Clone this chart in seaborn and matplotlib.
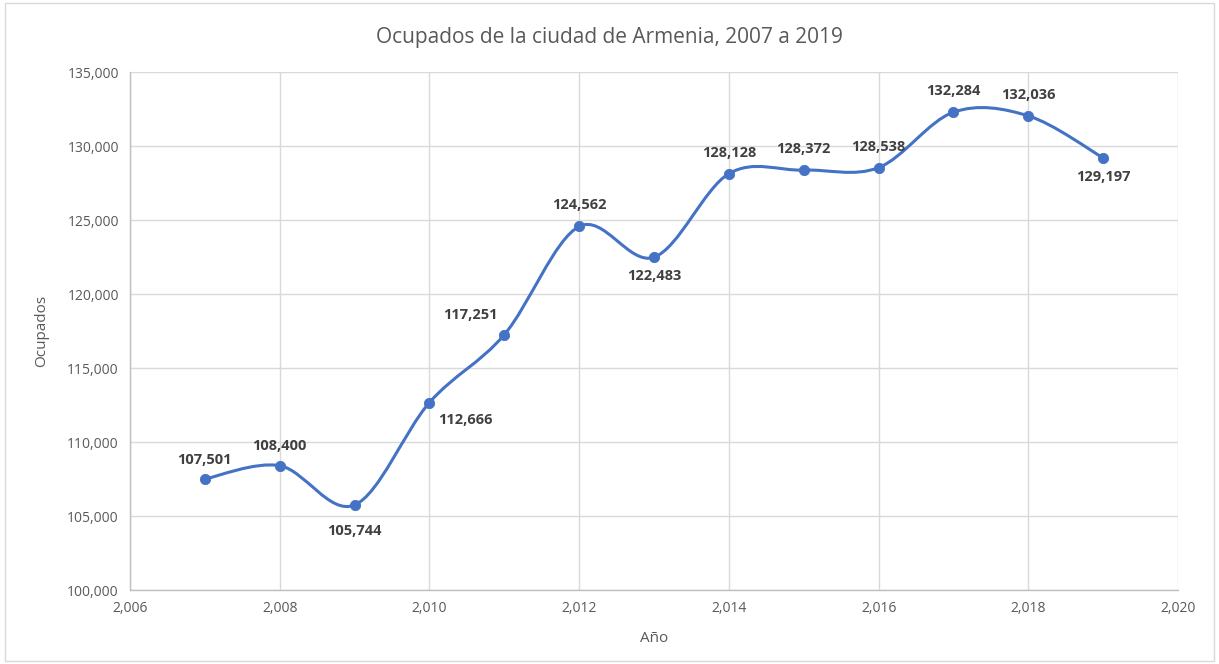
import numpy as np
import pandas as pd
import matplotlib.pyplot as plt
import seaborn as sns
from matplotlib.path import Path
from matplotlib.patches import PathPatch, Rectangle
from matplotlib.ticker import FuncFormatter

# data
years = [2007, 2008, 2009, 2010, 2011, 2012, 2013, 2014, 2015, 2016, 2017, 2018, 2019]
ocupados = [107501, 108400, 105744, 112666, 117251, 124562, 122483,
            128128, 128372, 128538, 132284, 132036, 129197]
# label offsets in pixels (dx, dy)
label_offsets = [(0, 19), (0, 20), (0, -26), (36, -17), (-34, 20), (0, 21), (0, -19),
                 (0, 21), (0, 21), (0, 21), (0, 21), (0, 21), (0, -19)]

df = pd.DataFrame({"Año": years, "Ocupados": ocupados})

sns.set_theme(style="whitegrid")
plt.rcParams['font.family'] = ['Open Sans', 'DejaVu Sans']

line_color = "#4472C4"
text_color = "#595959"

fig = plt.figure(figsize=(12.19, 6.64), dpi=100)
ax = fig.add_axes([130 / 1219, 1 - 590 / 664, (1178 - 130) / 1219, (590 - 72) / 664])

# smoothed line like Excel (cubic bezier through points)
x = np.array(years, dtype=float)
y = np.array(ocupados, dtype=float)
verts = [(x[0], y[0])]
codes = [Path.MOVETO]
n = len(x)
for i in range(n - 1):
    x0, y0 = (x[i - 1], y[i - 1]) if i > 0 else (x[i], y[i])
    x3, y3 = (x[i + 2], y[i + 2]) if i + 2 < n else (x[i + 1], y[i + 1])
    c1 = (x[i] + (x[i + 1] - x0) / 6, y[i] + (y[i + 1] - y0) / 6)
    c2 = (x[i + 1] - (x3 - x[i]) / 6, y[i + 1] - (y3 - y[i]) / 6)
    verts += [c1, c2, (x[i + 1], y[i + 1])]
    codes += [Path.CURVE4] * 3
ax.add_patch(PathPatch(Path(verts, codes), facecolor="none", edgecolor=line_color, lw=2.2, zorder=3))

sns.scatterplot(data=df, x="Año", y="Ocupados", color=line_color, s=55, edgecolor=line_color,
                zorder=4, ax=ax)

for xi, yi, (dx, dy) in zip(years, ocupados, label_offsets):
    ax.annotate(f"{yi:,}", (xi, yi), xytext=(dx, dy), textcoords="offset pixels",
                ha="center", va="center", fontsize=10.5, fontweight="bold", color="#404040")

ax.set_xlim(2006, 2020)
ax.set_ylim(100000, 135000)
ax.set_xticks(range(2006, 2021, 2))
ax.set_yticks(range(100000, 135001, 5000))
ax.xaxis.set_major_formatter(FuncFormatter(lambda v, p: f"{int(v):,}"))
ax.yaxis.set_major_formatter(FuncFormatter(lambda v, p: f"{int(v):,}"))
ax.tick_params(colors=text_color, labelsize=10, length=0, pad=8)
ax.grid(True, color="#d9d9d9", lw=1)
for side in ["top", "right"]:
    ax.spines[side].set_visible(False)
for side in ["left", "bottom"]:
    ax.spines[side].set_color("#bfbfbf")
    ax.spines[side].set_linewidth(1)

ax.set_xlabel("Año", color=text_color, fontsize=11, labelpad=11)
ax.set_ylabel("Ocupados", color=text_color, fontsize=11, labelpad=13)
fig.text(0.5, 1 - 37 / 664, "Ocupados de la ciudad de Armenia, 2007 a 2019",
         ha="center", va="center", fontsize=15, color=text_color)

fig.patches.append(Rectangle((0.004, 0.004), 0.992, 0.992, transform=fig.transFigure,
                             fill=False, edgecolor="#d9d9d9", lw=1))

fig.savefig("out.png", dpi=100)
